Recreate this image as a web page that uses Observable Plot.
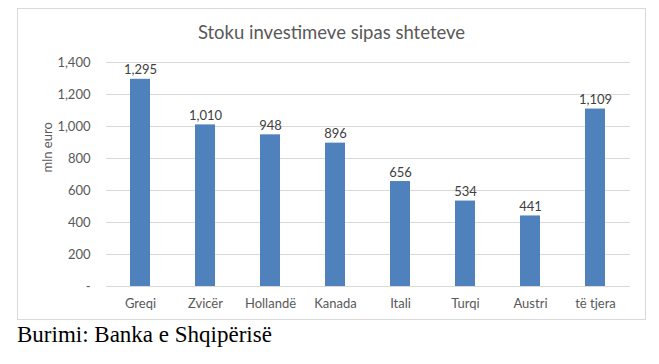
<!DOCTYPE html>
<html><head><meta charset="utf-8">
<script src="https://cdn.jsdelivr.net/npm/d3@7"></script>
<script src="https://cdn.jsdelivr.net/npm/@observablehq/plot@0.6"></script>
<style>
body{margin:0;background:#fff;}
#wrap{position:relative;width:659px;height:364px;}
#box{position:absolute;left:17px;top:8px;width:629px;height:312px;border:1px solid #d9d9d9;box-sizing:border-box;}
#title{position:absolute;left:17px;width:629px;top:21px;text-align:center;font:18.5px Lato,sans-serif;color:#595959;}
#plot{position:absolute;left:0;top:0;}
#plot svg text{font-size:13px;}
#cap{position:absolute;left:17px;top:322px;font:23px/1.15 "Liberation Serif",serif;color:#000;}
</style></head>
<body>
<div id="wrap">
<div id="box"></div>
<div id="plot"></div>
<div id="title">Stoku investimeve sipas shteteve</div>
<div id="cap">Burimi: Banka e Shqipërisë</div>
</div>
<script>
const categories = ["Greqi","Zvicër","Hollandë","Kanada","Itali","Turqi","Austri","të tjera"];
const values = [1295,1010,948,896,656,534,441,1109];
const yTicks = [0,200,400,600,800,1000,1200,1400];
const data = categories.map((c,i)=>({c, v: values[i]}));
const fmt = d3.format(",");
const chart = Plot.plot({
  width: 659, height: 320,
  marginLeft: 106, marginRight: 29, marginTop: 62, marginBottom: 34,
  style: {fontFamily: "Lato, sans-serif", fontSize: "13px", background: "transparent"},
  x: {domain: categories, paddingInner: 0.69, paddingOuter: 0.345, label: null},
  y: {domain: [0,1400], label: null},
  marks: [
    Plot.gridY(yTicks, {stroke: "#d9d9d9", strokeOpacity: 1}),
    Plot.ruleY([0], {stroke: "#d9d9d9"}),
    Plot.barY(data, {x: "c", y: "v", fill: "#4F81BD"}),
    Plot.text(data, {x: "c", y: "v", text: d => fmt(d.v), lineAnchor: "bottom", dy: -5, fill: "#404040", fontSize: 13}),
    Plot.axisY(yTicks, {tickSize: 0, tickPadding: 16, tickFormat: d => d === 0 ? "-" : fmt(d), fill: "#595959", fontSize: 13, label: null}),
    Plot.axisX({tickSize: 0, tickPadding: 12, fill: "#595959", fontSize: 13, label: null}),
    Plot.text(["mln euro"], {frameAnchor: "left", dx: -59, dy: -2, rotate: -90, fill: "#595959", fontSize: 13})
  ]
});
document.getElementById("plot").appendChild(chart);
</script>
</body></html>
